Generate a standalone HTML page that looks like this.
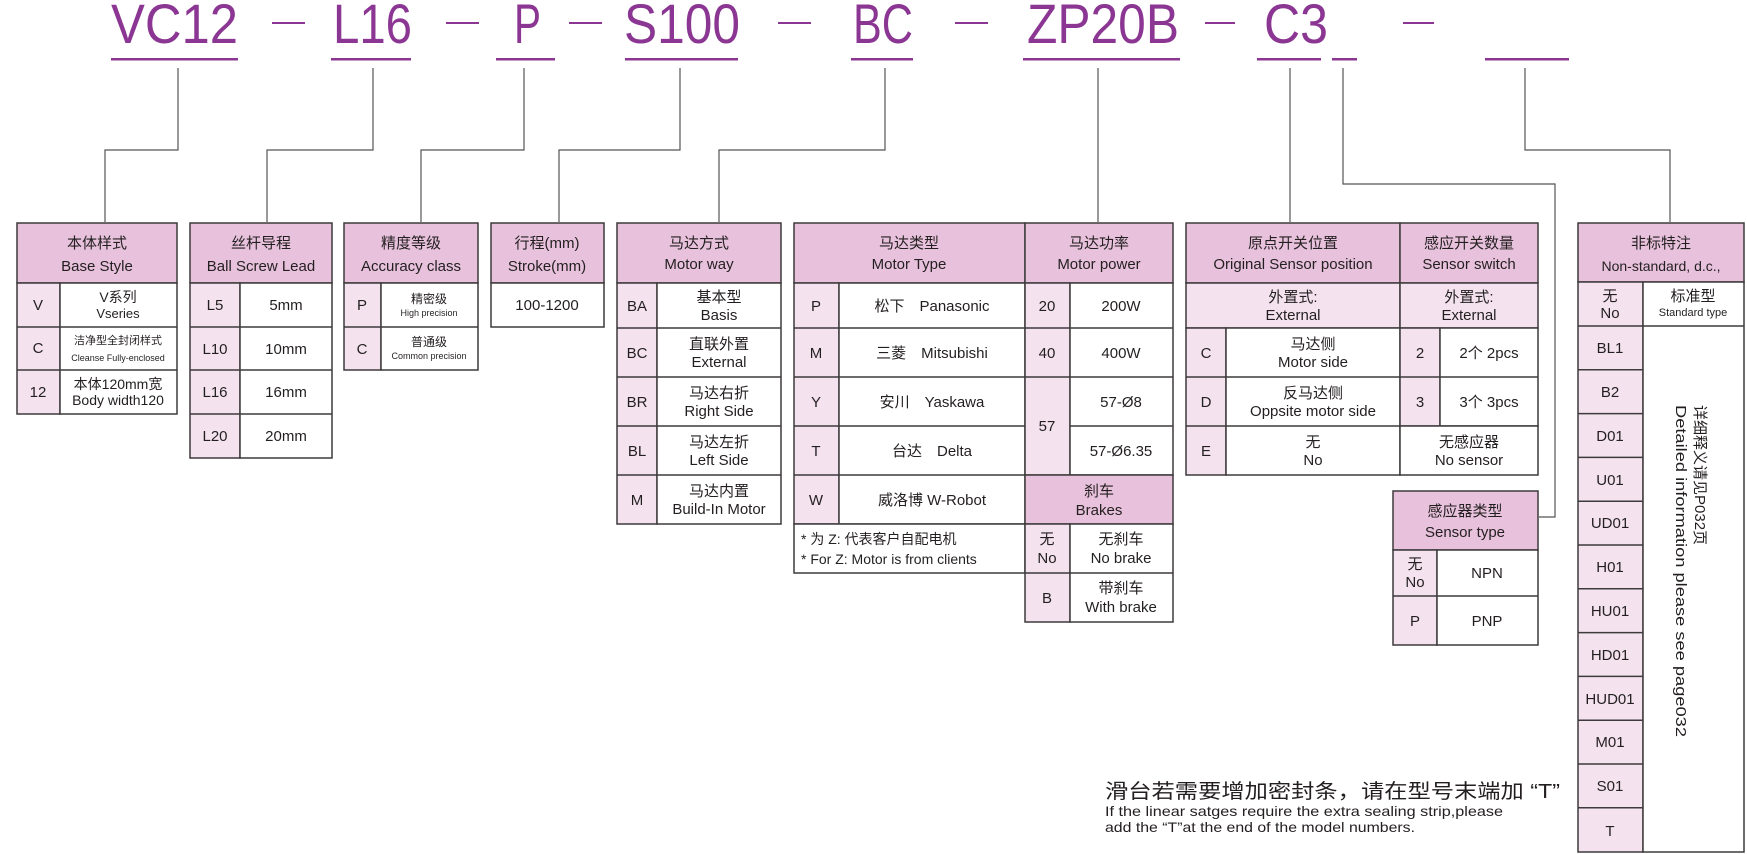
<!DOCTYPE html>
<html><head><meta charset="utf-8"><style>
html,body{margin:0;padding:0;background:#fff;}
svg{display:block;}
text{font-family:"Liberation Sans Narrow","Liberation Sans","Noto Sans CJK SC",sans-serif;fill:#231f20;}
.big{font-family:"Liberation Sans","Noto Sans CJK SC",sans-serif;fill:#8b3693;font-size:56px;}
.t{font-size:15px;text-anchor:middle;}
.s{font-size:9px;text-anchor:middle;}
.hd{fill:#e8c2dc;}
.lp{fill:#f4e3ef;}
.w{fill:#fff;}
.b{stroke:#3d3a3b;stroke-width:1.5;}
.c{stroke:#555;stroke-width:1.2;fill:none;}
</style></head><body>
<svg width="1747" height="854" viewBox="0 0 1747 854" xmlns="http://www.w3.org/2000/svg">
<text class="big" x="111" y="43" textLength="127" lengthAdjust="spacingAndGlyphs">VC12</text>
<text class="big" x="333" y="43" textLength="79" lengthAdjust="spacingAndGlyphs">L16</text>
<text class="big" x="514" y="43" textLength="27" lengthAdjust="spacingAndGlyphs">P</text>
<text class="big" x="624" y="43" textLength="116" lengthAdjust="spacingAndGlyphs">S100</text>
<text class="big" x="853" y="43" textLength="60" lengthAdjust="spacingAndGlyphs">BC</text>
<text class="big" x="1027" y="43" textLength="152" lengthAdjust="spacingAndGlyphs">ZP20B</text>
<text class="big" x="1264" y="43" textLength="64" lengthAdjust="spacingAndGlyphs">C3</text>
<g fill="#8b3693">
<rect x="111" y="58" width="127" height="2.5"/>
<rect x="331" y="58" width="80" height="2.5"/>
<rect x="496" y="58" width="59" height="2.5"/>
<rect x="625" y="58" width="113" height="2.5"/>
<rect x="851" y="58" width="62" height="2.5"/>
<rect x="1023" y="58" width="157" height="2.5"/>
<rect x="1257" y="58" width="64" height="2.5"/>
<rect x="1332" y="58" width="25" height="2.5"/>
<rect x="1485" y="58" width="84" height="2.5"/>
<rect x="272" y="22" width="33" height="2"/>
<rect x="446" y="22" width="33" height="2"/>
<rect x="569" y="22" width="33" height="2"/>
<rect x="778" y="22" width="33" height="2"/>
<rect x="955" y="22" width="33" height="2"/>
<rect x="1205" y="22" width="30" height="2"/>
<rect x="1403" y="22" width="31" height="2"/>
</g>
<polyline class="c" points="178,68 178,150 105,150 105,222"/>
<polyline class="c" points="373,68 373,150 267,150 267,222"/>
<polyline class="c" points="524,68 524,150 421,150 421,222"/>
<polyline class="c" points="680,68 680,150 559,150 559,222"/>
<polyline class="c" points="885,68 885,150 719,150 719,222"/>
<polyline class="c" points="1098,68 1098,222"/>
<polyline class="c" points="1290,68 1290,222"/>
<polyline class="c" points="1343,68 1343,184 1555,184 1555,517 1539,517"/>
<polyline class="c" points="1525,68 1525,150 1670,150 1670,222"/>

<g class="b">
<rect class="hd" x="17" y="223" width="160" height="60"/>
<rect class="lp" x="17" y="283" width="43" height="131"/>
<rect class="w" x="60" y="283" width="117" height="131"/>
<line x1="17" y1="327" x2="177" y2="327"/><line x1="17" y1="370" x2="177" y2="370"/>
<rect class="hd" x="190" y="223" width="142" height="60"/>
<rect class="lp" x="190" y="283" width="50" height="175"/>
<rect class="w" x="240" y="283" width="92" height="175"/>
<line x1="190" y1="327" x2="332" y2="327"/><line x1="190" y1="370" x2="332" y2="370"/><line x1="190" y1="414" x2="332" y2="414"/>
<rect class="hd" x="344" y="223" width="134" height="60"/>
<rect class="lp" x="344" y="283" width="37" height="87"/>
<rect class="w" x="381" y="283" width="97" height="87"/>
<line x1="344" y1="327" x2="478" y2="327"/>
<rect class="hd" x="491" y="223" width="113" height="60"/>
<rect class="w" x="491" y="283" width="113" height="44"/>
<rect class="hd" x="617" y="223" width="164" height="60"/>
<rect class="lp" x="617" y="283" width="40" height="241"/>
<rect class="w" x="657" y="283" width="124" height="241"/>
<line x1="617" y1="328" x2="781" y2="328"/><line x1="617" y1="377" x2="781" y2="377"/><line x1="617" y1="426" x2="781" y2="426"/><line x1="617" y1="475" x2="781" y2="475"/>
<rect class="hd" x="794" y="223" width="231" height="60"/>
<rect class="lp" x="794" y="283" width="45" height="241"/>
<rect class="w" x="839" y="283" width="186" height="241"/>
<line x1="794" y1="328" x2="1025" y2="328"/><line x1="794" y1="377" x2="1025" y2="377"/><line x1="794" y1="426" x2="1025" y2="426"/><line x1="794" y1="475" x2="1025" y2="475"/>
<rect class="w" x="794" y="524" width="231" height="49"/>
<rect class="hd" x="1025" y="223" width="148" height="60"/>
<rect class="lp" x="1025" y="283" width="45" height="192"/>
<rect class="w" x="1070" y="283" width="103" height="192"/>
<line x1="1025" y1="328" x2="1173" y2="328"/><line x1="1025" y1="377" x2="1173" y2="377"/><line x1="1070" y1="426" x2="1173" y2="426"/>
<rect class="hd" x="1025" y="475" width="148" height="49"/>
<rect class="lp" x="1025" y="524" width="45" height="98"/>
<rect class="w" x="1070" y="524" width="103" height="98"/>
<line x1="1025" y1="573" x2="1173" y2="573"/>
<rect class="hd" x="1186" y="223" width="214" height="60"/>
<rect class="lp" x="1186" y="283" width="214" height="45"/>
<rect class="lp" x="1186" y="328" width="40" height="147"/>
<rect class="w" x="1226" y="328" width="174" height="147"/>
<line x1="1186" y1="377" x2="1400" y2="377"/><line x1="1186" y1="426" x2="1400" y2="426"/>
<rect class="hd" x="1400" y="223" width="138" height="60"/>
<rect class="lp" x="1400" y="283" width="138" height="45"/>
<rect class="lp" x="1400" y="328" width="40" height="98"/>
<rect class="w" x="1440" y="328" width="98" height="98"/>
<line x1="1400" y1="377" x2="1538" y2="377"/>
<rect class="w" x="1400" y="426" width="138" height="49"/>
<rect class="hd" x="1393" y="491" width="145" height="59"/>
<rect class="lp" x="1393" y="550" width="44" height="95"/>
<rect class="w" x="1437" y="550" width="101" height="95"/>
<line x1="1393" y1="596" x2="1538" y2="596"/>
<rect class="hd" x="1578" y="223" width="166" height="59"/>
<rect class="lp" x="1578" y="282" width="65" height="570"/>
<rect class="w" x="1643" y="282" width="101" height="570"/>
<line x1="1578" y1="326" x2="1744" y2="326"/>
<line x1="1578" y1="369.8" x2="1643" y2="369.8"/><line x1="1578" y1="413.6" x2="1643" y2="413.6"/><line x1="1578" y1="457.4" x2="1643" y2="457.4"/><line x1="1578" y1="501.2" x2="1643" y2="501.2"/><line x1="1578" y1="545" x2="1643" y2="545"/><line x1="1578" y1="588.8" x2="1643" y2="588.8"/><line x1="1578" y1="632.6" x2="1643" y2="632.6"/><line x1="1578" y1="676.4" x2="1643" y2="676.4"/><line x1="1578" y1="720.2" x2="1643" y2="720.2"/><line x1="1578" y1="764" x2="1643" y2="764"/><line x1="1578" y1="807.8" x2="1643" y2="807.8"/>
</g>

<g class="t">
<text x="97" y="248">本体样式</text><text x="97" y="271">Base Style</text>
<text x="261" y="248">丝杆导程</text><text x="261" y="271">Ball Screw Lead</text>
<text x="411" y="248">精度等级</text><text x="411" y="271">Accuracy class</text>
<text x="547" y="248">行程(mm)</text><text x="547" y="271">Stroke(mm)</text>
<text x="699" y="248">马达方式</text><text x="699" y="269">Motor way</text>
<text x="909" y="248">马达类型</text><text x="909" y="269">Motor Type</text>
<text x="1099" y="248">马达功率</text><text x="1099" y="269">Motor power</text>
<text x="1293" y="248">原点开关位置</text><text x="1293" y="269">Original Sensor position</text>
<text x="1469" y="248">感应开关数量</text><text x="1469" y="269">Sensor switch</text>
<text x="1661" y="248">非标特注</text><text x="1661" y="271" style="font-size:14px">Non-standard, d.c.,</text>
<text x="1465" y="516">感应器类型</text><text x="1465" y="537">Sensor type</text>
<text x="1099" y="496">刹车</text><text x="1099" y="515">Brakes</text>
</g>

<g class="t">
<text x="38" y="310">V</text><text x="118" y="302" style="font-size:14px">V系列</text><text x="118" y="318" style="font-size:13px">Vseries</text>
<text x="38" y="353">C</text><text x="118" y="344" style="font-size:11px">洁净型全封闭样式</text><text x="118" y="361" class="s" style="font-size:9px">Cleanse Fully-enclosed</text>
<text x="38" y="397">12</text><text x="118" y="389" style="font-size:14px">本体120mm宽</text><text x="118" y="405" style="font-size:14px">Body width120</text>
<text x="215" y="310">L5</text><text x="286" y="310">5mm</text>
<text x="215" y="354">L10</text><text x="286" y="354">10mm</text>
<text x="215" y="397">L16</text><text x="286" y="397">16mm</text>
<text x="215" y="441">L20</text><text x="286" y="441">20mm</text>
<text x="362" y="310">P</text><text x="429" y="303" style="font-size:12px">精密级</text><text x="429" y="316" style="font-size:9px">High precision</text>
<text x="362" y="354">C</text><text x="429" y="346" style="font-size:12px">普通级</text><text x="429" y="359" style="font-size:9px">Common precision</text>
<text x="547" y="310">100-1200</text>
<text x="637" y="311">BA</text><text x="719" y="302">基本型</text><text x="719" y="320">Basis</text>
<text x="637" y="358">BC</text><text x="719" y="349">直联外置</text><text x="719" y="367">External</text>
<text x="637" y="407">BR</text><text x="719" y="398">马达右折</text><text x="719" y="416">Right Side</text>
<text x="637" y="456">BL</text><text x="719" y="447">马达左折</text><text x="719" y="465">Left Side</text>
<text x="637" y="505">M</text><text x="719" y="496">马达内置</text><text x="719" y="514">Build-In Motor</text>
<text x="816" y="311">P</text><text x="932" y="311">松下　Panasonic</text>
<text x="816" y="358">M</text><text x="932" y="358">三菱　Mitsubishi</text>
<text x="816" y="407">Y</text><text x="932" y="407">安川　Yaskawa</text>
<text x="816" y="456">T</text><text x="932" y="456">台达　Delta</text>
<text x="816" y="505">W</text><text x="932" y="505">威洛博 W-Robot</text>
</g>
<text x="801" y="544" style="font-size:14px">* 为 Z: 代表客户自配电机</text>
<text x="801" y="564" style="font-size:14px">* For Z: Motor is from clients</text>
<g class="t">
<text x="1047" y="311">20</text><text x="1121" y="311">200W</text>
<text x="1047" y="358">40</text><text x="1121" y="358">400W</text>
<text x="1047" y="431">57</text><text x="1121" y="407">57-Ø8</text><text x="1121" y="456">57-Ø6.35</text>
<text x="1047" y="544">无</text><text x="1047" y="563">No</text><text x="1121" y="544">无刹车</text><text x="1121" y="563">No brake</text>
<text x="1047" y="603">B</text><text x="1121" y="593">带刹车</text><text x="1121" y="612">With brake</text>
<text x="1293" y="302">外置式:</text><text x="1293" y="320">External</text>
<text x="1206" y="358">C</text><text x="1313" y="349">马达侧</text><text x="1313" y="367">Motor side</text>
<text x="1206" y="407">D</text><text x="1313" y="398">反马达侧</text><text x="1313" y="416">Oppsite motor side</text>
<text x="1206" y="456">E</text><text x="1313" y="447">无</text><text x="1313" y="465">No</text>
<text x="1469" y="302">外置式:</text><text x="1469" y="320">External</text>
<text x="1420" y="358">2</text><text x="1489" y="358">2个  2pcs</text>
<text x="1420" y="407">3</text><text x="1489" y="407">3个  3pcs</text>
<text x="1469" y="447">无感应器</text><text x="1469" y="465">No sensor</text>
<text x="1415" y="569">无</text><text x="1415" y="587">No</text><text x="1487" y="578">NPN</text>
<text x="1415" y="626">P</text><text x="1487" y="626">PNP</text>
<text x="1610" y="301">无</text><text x="1610" y="318">No</text>
<text x="1693" y="301">标准型</text><text x="1693" y="316" style="font-size:11px">Standard type</text>
<text x="1610" y="353">BL1</text><text x="1610" y="397">B2</text><text x="1610" y="441">D01</text><text x="1610" y="485">U01</text>
<text x="1610" y="528">UD01</text><text x="1610" y="572">H01</text><text x="1610" y="616">HU01</text><text x="1610" y="660">HD01</text>
<text x="1610" y="704">HUD01</text><text x="1610" y="747">M01</text><text x="1610" y="791">S01</text><text x="1610" y="836">T</text>
</g>
<g transform="translate(1695,405) rotate(90)"><text x="0" y="0" style="font-size:15px">详细释义请见P032页</text></g>
<g transform="translate(1676,405) rotate(90)"><text x="0" y="0" style="font-size:15px" textLength="332" lengthAdjust="spacingAndGlyphs">Detailed information please see page032</text></g>

<text x="1105" y="798" style="font-size:20px" textLength="455" lengthAdjust="spacingAndGlyphs">滑台若需要增加密封条，请在型号末端加 “T”</text>
<text x="1105" y="816" style="font-size:14px" textLength="398" lengthAdjust="spacingAndGlyphs">If the linear satges require the extra sealing strip,please</text>
<text x="1105" y="832" style="font-size:14px" textLength="310" lengthAdjust="spacingAndGlyphs">add the “T”at the end of the model numbers.</text>
</svg>
</body></html>
